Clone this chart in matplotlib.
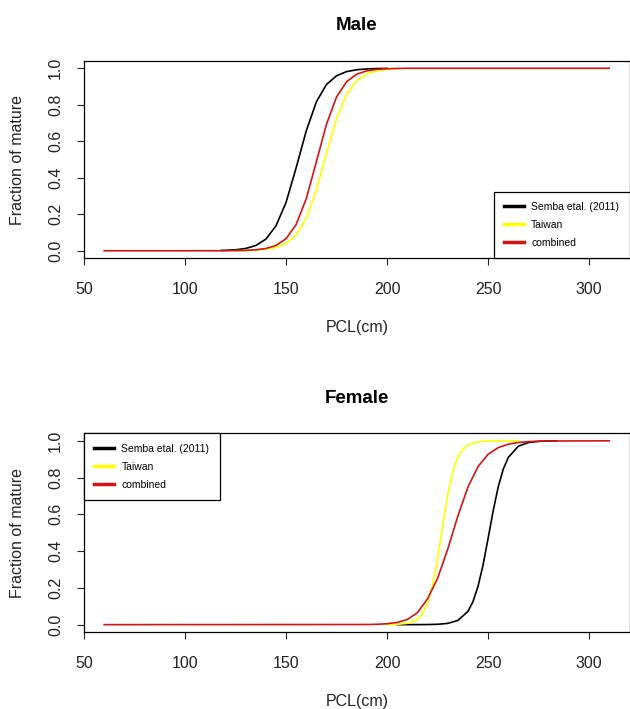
import matplotlib
matplotlib.use('Agg')
import matplotlib.pyplot as plt

plt.rcParams['font.family'] = ['Liberation Sans', 'DejaVu Sans']

# Male curves (PCL cm, fraction mature)
male_semba_x = [118, 120, 125, 130, 135, 140, 145, 150, 155, 160, 165, 170, 175, 180, 185, 190, 195, 200]
male_semba_y = [0.0016, 0.0024, 0.0055, 0.0126, 0.0287, 0.0636, 0.136, 0.265, 0.455, 0.657, 0.816,
                0.911, 0.959, 0.982, 0.992, 0.9965, 0.9985, 0.9993]
male_taiwan_x = [125, 130, 135, 140, 145, 150, 155, 160, 165, 170, 175, 180, 185, 190, 195, 200, 205]
male_taiwan_y = [0.0006, 0.0015, 0.0034, 0.0078, 0.0177, 0.040, 0.086, 0.178, 0.332, 0.533, 0.723,
                 0.857, 0.932, 0.969, 0.986, 0.994, 0.997]
male_comb_x = [60, 115, 120, 125, 130, 135, 140, 145, 150, 155, 160, 165, 170, 175, 180, 185, 190,
               195, 200, 205, 210, 310]
male_comb_y = [0.0, 0.0002, 0.0004, 0.0009, 0.0022, 0.0053, 0.0124, 0.029, 0.066, 0.144, 0.285, 0.488,
               0.693, 0.843, 0.927, 0.968, 0.986, 0.994, 0.9975, 0.999, 1.0, 1.0]

# Female curves
fem_semba_x = [205, 210, 215, 220, 225, 230, 235, 240, 242.5, 245, 247.5, 250, 252.5, 255, 257.5,
               260, 265, 270, 275, 280, 284]
fem_semba_y = [0.0, 0.0001, 0.0002, 0.0006, 0.002, 0.0068, 0.0226, 0.072, 0.125, 0.208, 0.325, 0.470,
               0.619, 0.749, 0.846, 0.910, 0.971, 0.991, 0.997, 0.9992, 1.0]
fem_taiwan_x = [200, 205, 210, 212.5, 215, 217.5, 220, 222.5, 225, 227.5, 230, 232.5, 235, 237.5,
                240, 245, 250, 255, 265]
fem_taiwan_y = [0.0004, 0.0017, 0.0072, 0.0147, 0.030, 0.060, 0.116, 0.213, 0.359, 0.536, 0.705,
                0.831, 0.911, 0.955, 0.977, 0.9946, 0.9987, 0.9997, 1.0]
fem_comb_x = [60, 190, 195, 200, 205, 210, 215, 220, 225, 230, 235, 240, 245, 250, 255, 260, 265,
              270, 275, 280, 310]
fem_comb_y = [0.0, 0.0008, 0.002, 0.005, 0.012, 0.028, 0.065, 0.140, 0.252, 0.410, 0.590, 0.748,
              0.860, 0.927, 0.963, 0.982, 0.991, 0.9957, 0.998, 0.999, 1.0]

labels = ['Semba etal. (2011)', 'Taiwan', 'combined']
colors = ['black', '#ffff00', '#d41414']
yticks = [0.0, 0.2, 0.4, 0.6, 0.8, 1.0]
xticks = [50, 100, 150, 200, 250, 300]

fig = plt.figure(figsize=(6.3, 7.09), dpi=100)
ax1 = fig.add_axes([0.1333, 0.636, 0.866, 0.278])
ax2 = fig.add_axes([0.1333, 0.1086, 0.866, 0.28])


def draw_panel(ax, title, series, legend_loc):
    for (x, y), c in zip(series, colors):
        ax.plot(x, y, color=c, lw=1.2)
    ax.set_xlim(50, 320)
    ax.set_ylim(-0.04, 1.04)
    ax.set_xticks(xticks)
    ax.set_yticks(yticks)
    ax.set_yticklabels(['%.1f' % v for v in yticks], rotation=90, va='center')
    ax.tick_params(direction='out', length=5, labelsize=11.5, width=0.8, colors='#222222')
    ax.tick_params(axis='x', pad=12)
    ax.tick_params(axis='y', pad=10)
    ax.set_xlabel('PCL(cm)', fontsize=11.5, labelpad=17, color='#222222')
    ax.set_ylabel('Fraction of mature', fontsize=11.5, labelpad=17, color='#222222')
    ax.set_title(title, fontsize=13.5, fontweight='bold', pad=22)
    for s in ax.spines.values():
        s.set_linewidth(0.9)
    handles = [plt.Line2D([], [], color=c, lw=2.5) for c in colors]
    leg = ax.legend(handles, labels, loc=legend_loc, borderaxespad=0, fancybox=False,
                    edgecolor='black', framealpha=1, fontsize=7.5, handlelength=1.9,
                    handletextpad=0.7, borderpad=1.0, labelspacing=0.75)
    leg.get_frame().set_linewidth(0.9)


draw_panel(ax1, 'Male', [(male_semba_x, male_semba_y), (male_taiwan_x, male_taiwan_y),
                         (male_comb_x, male_comb_y)], 'lower right')
draw_panel(ax2, 'Female', [(fem_semba_x, fem_semba_y), (fem_taiwan_x, fem_taiwan_y),
                           (fem_comb_x, fem_comb_y)], 'upper left')

fig.savefig('out.png', dpi=100)
